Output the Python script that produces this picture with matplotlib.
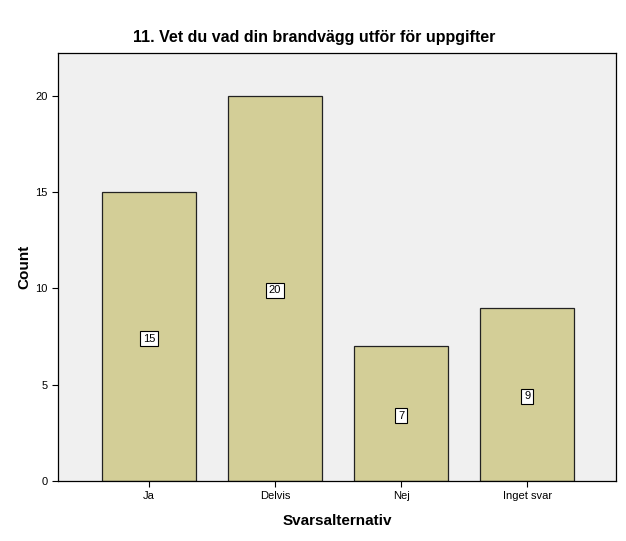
import matplotlib.pyplot as plt

# data
categories = ["Ja", "Delvis", "Nej", "Inget svar"]
counts = [15, 20, 7, 9]
yticks = [0, 5, 10, 15, 20]

plt.rcParams["font.family"] = ["Arial", "Liberation Sans", "DejaVu Sans"]

fig = plt.figure(figsize=(6.26, 5.41), dpi=100)
ax = fig.add_axes([0.0927, 0.1109, 0.8914, 0.7911])
ax.set_facecolor("#F0F0F0")

x = range(len(categories))
ax.bar(x, counts, width=0.746, color="#D3CE97", edgecolor="#222222", linewidth=0.9)

for xi, v in zip(x, counts):
    ax.text(xi, v / 2 - 0.1, str(v), ha="center", va="center", fontsize=8,
            bbox=dict(boxstyle="square,pad=0.25", facecolor="white", edgecolor="black", linewidth=0.8))

ax.set_xlim(-0.722, 3.706)
ax.set_ylim(0, 22.23)
ax.set_xticks(list(x))
ax.set_xticklabels(categories, fontsize=8)
ax.set_yticks(yticks)
ax.set_yticklabels([str(t) for t in yticks], fontsize=8)
ax.tick_params(length=4, width=0.8, color="black")

for s in ax.spines.values():
    s.set_linewidth(0.9)
    s.set_color("black")

ax.set_xlabel("Svarsalternativ", fontsize=11, fontweight="bold", labelpad=9)
ax.set_ylabel("Count", fontsize=11, fontweight="bold", labelpad=3)
fig.text(0.502, 0.93, "11. Vet du vad din brandvägg utför för uppgifter",
         ha="center", va="center", fontsize=11.5, fontweight="bold")

fig.savefig("out.png", dpi=100)
